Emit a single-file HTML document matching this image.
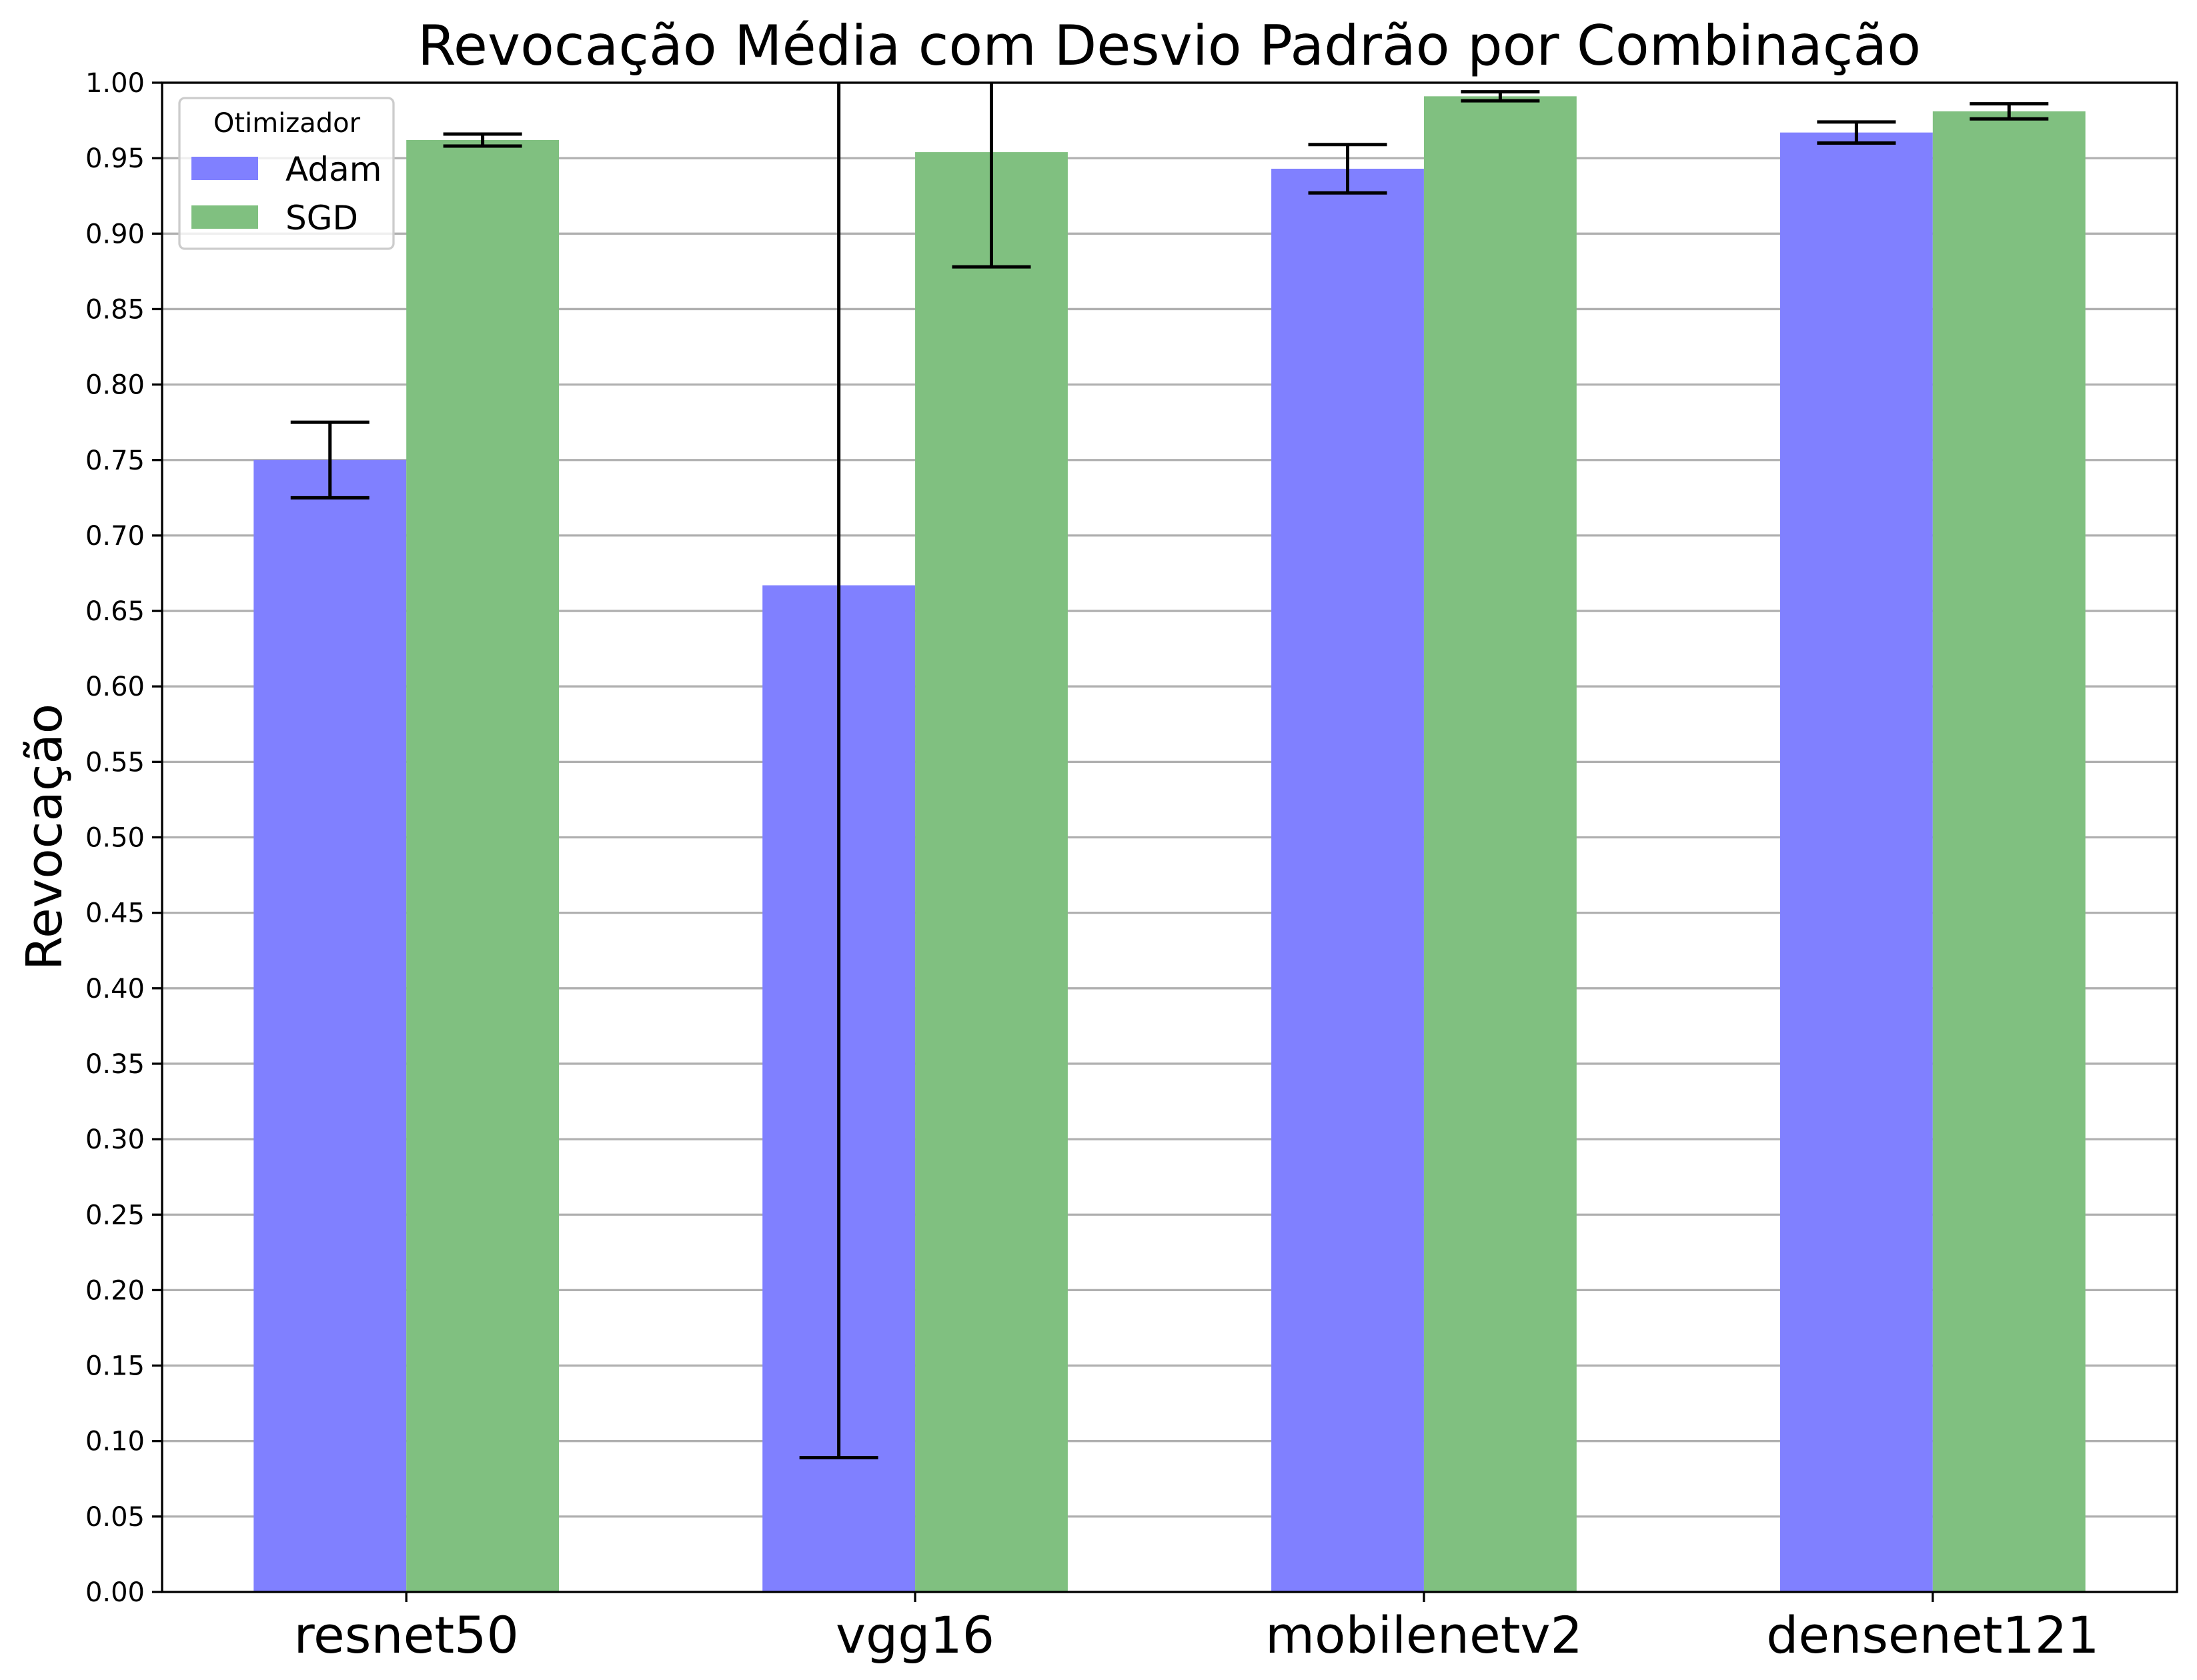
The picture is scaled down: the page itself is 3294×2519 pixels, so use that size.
<!DOCTYPE html>
<html><head><meta charset="utf-8">
<style>
html,body{margin:0;padding:0;background:#fff;}
svg{display:block;font-family:"DejaVu Sans","Liberation Sans",sans-serif;}
</style></head>
<body>
<svg id="chart" width="3294" height="2519" viewBox="0 0 3294 2519" xmlns="http://www.w3.org/2000/svg">
<rect width="3294" height="2519" fill="#fff"/>
<text x="1753" y="97" font-size="83" text-anchor="middle">Revocação Média com Desvio Padrão por Combinação</text>
<text transform="translate(92,1255) rotate(-90)" font-size="74" text-anchor="middle">Revocação</text>
<g id="grid"></g>
<g id="bars"></g>
<g id="errs"></g>
<g id="axes"></g>
<g id="legend"></g>
</svg>
<script>
const categories = ["resnet50","vgg16","mobilenetv2","densenet121"];
const adamValues = [0.750,0.667,0.943,0.967];
const adamErrors = [0.025,0.578,0.016,0.007];
const sgdValues = [0.962,0.954,0.991,0.981];
const sgdErrors = [0.004,0.076,0.003,0.005];
const yTicks = [0,0.05,0.1,0.15,0.2,0.25,0.3,0.35,0.4,0.45,0.5,0.55,0.6,0.65,0.7,0.75,0.8,0.85,0.9,0.95,1.0];

const L=243,R=3264,T=124,B=2387;
const xMin=-0.48,xMax=3.48,yMin=0,yMax=1;
const barW=0.3;
function xs(v){return L+(v-xMin)/(xMax-xMin)*(R-L);}
function ys(v){return B-(v-yMin)/(yMax-yMin)*(B-T);}
const NS="http://www.w3.org/2000/svg";
function mk(tag,attrs,parent){const e=document.createElementNS(NS,tag);for(const k in attrs)e.setAttribute(k,attrs[k]);parent.appendChild(e);return e;}
const grid=document.getElementById('grid'),bars=document.getElementById('bars'),errs=document.getElementById('errs'),axes=document.getElementById('axes'),legend=document.getElementById('legend');

yTicks.forEach(t=>{
  const y=ys(t);
  const g=mk('line',{x1:L,x2:R,y1:y,y2:y,stroke:'#b0b0b0','stroke-width':3.3},grid);
  
  
  const tk=mk('line',{x1:L-15,x2:L,y1:y,y2:y,stroke:'#000','stroke-width':3.3},axes);
  
  
  const lb=mk('text',{x:L-26,y:y+14,'font-size':40,'text-anchor':'end'},axes);
  lb.textContent=t.toFixed(2);
  
  
});

function drawSeries(vals,errsArr,offset,color,name){
  vals.forEach((v,i)=>{
    const x0=xs(i+offset),x1=xs(i+offset+barW);
    const r=mk('rect',{x:x0,y:ys(v),width:x1-x0,height:ys(0)-ys(v),fill:color},bars);
    
    
    const cx=(x0+x1)/2;
    const lo=Math.max(yMin,v-errsArr[i]),hi=Math.min(yMax,v+errsArr[i]);
    const ln=mk('line',{x1:cx,x2:cx,y1:ys(lo),y2:ys(hi),stroke:'#000','stroke-width':5},errs);
    
    
    [v-errsArr[i],v+errsArr[i]].forEach(c=>{
      if(c>=yMin&&c<=yMax){
        const cp=mk('line',{x1:cx-59,x2:cx+59,y1:ys(c),y2:ys(c),stroke:'#000','stroke-width':5},errs);
        
        
      }
    });
  });
}
drawSeries(adamValues,adamErrors,-barW,'#8080ff','adam');
drawSeries(sgdValues,sgdErrors,0,'#80c080','sgd');

const frame=mk('rect',{x:L,y:T,width:R-L,height:B-T,fill:'none',stroke:'#000','stroke-width':3.3},axes);


categories.forEach((c,i)=>{
  const x=xs(i);
  const tk=mk('line',{x1:x,x2:x,y1:B,y2:B+15,stroke:'#000','stroke-width':3.3},axes);
  
  
  const lb=mk('text',{x:x,y:2478,'font-size':76,'text-anchor':'middle'},axes);
  lb.textContent=c;
  
  
});

const lbox=mk('rect',{x:269,y:147,width:321,height:226,rx:8,fill:'#fff','fill-opacity':0.8,stroke:'#cccccc','stroke-width':3.3},legend);


const lt=mk('text',{x:430,y:198,'font-size':40,'text-anchor':'middle'},legend);
lt.textContent='Otimizador';


[['Adam','#8080ff',235],['SGD','#80c080',308]].forEach(([n,c,y])=>{
  const p=mk('rect',{x:287,y:y,width:100,height:35,fill:c},legend);
  
  
  const t=mk('text',{x:428,y:y+36,'font-size':50},legend);
  t.textContent=n;
  
  
});
</script>
</body></html>
